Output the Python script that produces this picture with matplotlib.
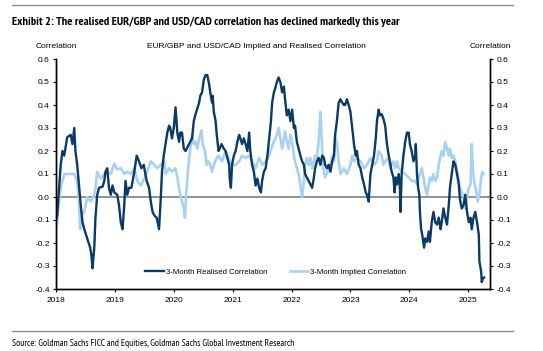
import matplotlib
matplotlib.use("Agg")
import matplotlib.pyplot as plt
from matplotlib import font_manager
from matplotlib.font_manager import FontProperties
from matplotlib.lines import Line2D

# ---------------- data ----------------
realised_years = [
    2018.00, 2018.02, 2018.08, 2018.11, 2018.14, 2018.19, 2018.25, 2018.28, 2018.31, 2018.33,
    2018.36, 2018.39, 2018.42, 2018.45, 2018.48, 2018.53, 2018.58, 2018.60, 2018.62, 2018.65,
    2018.67, 2018.70, 2018.73, 2018.79, 2018.82, 2018.84, 2018.87, 2018.90, 2018.93, 2018.96,
    2018.99, 2019.04, 2019.07, 2019.10, 2019.13, 2019.16, 2019.18, 2019.21, 2019.24, 2019.28,
    2019.33, 2019.37, 2019.41, 2019.45, 2019.49, 2019.51, 2019.54, 2019.58, 2019.61, 2019.64,
    2019.67, 2019.71, 2019.75, 2019.78, 2019.80, 2019.83, 2019.86, 2019.89, 2019.92, 2019.94,
    2019.97, 2020.00, 2020.03, 2020.06, 2020.09, 2020.11, 2020.14, 2020.17, 2020.20, 2020.26,
    2020.31, 2020.34, 2020.37, 2020.40, 2020.43, 2020.45, 2020.48, 2020.51, 2020.54, 2020.57,
    2020.60, 2020.62, 2020.65, 2020.66, 2020.68, 2020.71, 2020.73, 2020.76, 2020.78, 2020.81,
    2020.85, 2020.88, 2020.91, 2020.94, 2020.95, 2020.97, 2020.99, 2021.02, 2021.05, 2021.08,
    2021.11, 2021.13, 2021.16, 2021.19, 2021.22, 2021.25, 2021.28, 2021.30, 2021.33, 2021.36,
    2021.39, 2021.42, 2021.45, 2021.48, 2021.50, 2021.53, 2021.56, 2021.59, 2021.62, 2021.65,
    2021.67, 2021.70, 2021.72, 2021.75, 2021.78, 2021.81, 2021.84, 2021.87, 2021.89, 2021.92,
    2021.95, 2021.98, 2022.01, 2022.04, 2022.06, 2022.09, 2022.12, 2022.15, 2022.18, 2022.21,
    2022.23, 2022.26, 2022.29, 2022.32, 2022.35, 2022.38, 2022.40, 2022.43, 2022.46, 2022.49,
    2022.52, 2022.55, 2022.57, 2022.60, 2022.63, 2022.66, 2022.69, 2022.72, 2022.74, 2022.77,
    2022.80, 2022.83, 2022.86, 2022.89, 2022.91, 2022.94, 2022.97, 2023.00, 2023.03, 2023.06,
    2023.09, 2023.11, 2023.14, 2023.17, 2023.20, 2023.23, 2023.26, 2023.28, 2023.31, 2023.34,
    2023.37, 2023.40, 2023.43, 2023.45, 2023.48, 2023.50, 2023.53, 2023.56, 2023.59, 2023.62,
    2023.65, 2023.67, 2023.70, 2023.73, 2023.75, 2023.77, 2023.79, 2023.82, 2023.84, 2023.85,
    2023.87, 2023.90, 2023.93, 2023.96, 2023.99, 2024.01, 2024.04, 2024.07, 2024.10, 2024.11,
    2024.13, 2024.15, 2024.17, 2024.18, 2024.20, 2024.22, 2024.25, 2024.27, 2024.30, 2024.33,
    2024.35, 2024.38, 2024.41, 2024.44, 2024.47, 2024.50, 2024.53, 2024.55, 2024.58, 2024.61,
    2024.64, 2024.67, 2024.69, 2024.72, 2024.75, 2024.78, 2024.81, 2024.84, 2024.86, 2024.89,
    2024.92, 2024.95, 2024.98, 2025.01, 2025.04, 2025.06, 2025.09, 2025.12, 2025.15, 2025.18,
    2025.19, 2025.22, 2025.23, 2025.25, 2025.27,
]
realised_values = [
    -0.10, -0.08, 0.14, 0.20, 0.18, 0.26, 0.27, 0.23, 0.30, 0.20,
    0.14, 0.05, -0.035, -0.11, -0.14, -0.18, -0.22, -0.25, -0.31, -0.22,
    -0.09, 0.01, 0.04, 0.045, 0.07, 0.11, 0.125, 0.04, 0.01, 0.05,
    0.02, 0.01, -0.035, -0.11, -0.14, -0.03, 0.07, 0.01, 0.04, 0.04,
    0.11, 0.18, 0.155, 0.125, 0.14, 0.11, 0.07, 0.04, -0.02, -0.065,
    -0.08, -0.09, -0.14, 0.00, 0.11, 0.18, 0.23, 0.28, 0.31, 0.30,
    0.255, 0.30, 0.39, 0.28, 0.24, 0.28, 0.28, 0.21, 0.20, 0.23,
    0.255, 0.33, 0.36, 0.385, 0.41, 0.44, 0.455, 0.51, 0.53, 0.53,
    0.49, 0.455, 0.41, 0.44, 0.37, 0.33, 0.27, 0.20, 0.21, 0.23,
    0.21, 0.20, 0.17, 0.14, 0.08, 0.04, 0.14, 0.18, 0.20, 0.24,
    0.27, 0.255, 0.23, 0.255, 0.23, 0.20, 0.28, 0.20, 0.14, 0.11,
    0.05, 0.08, 0.04, 0.02, 0.07, 0.11, 0.125, 0.18, 0.255, 0.33,
    0.41, 0.455, 0.47, 0.50, 0.52, 0.50, 0.455, 0.48, 0.425, 0.355,
    0.38, 0.33, 0.38, 0.30, 0.31, 0.24, 0.21, 0.18, 0.155, 0.14,
    0.10, 0.085, 0.07, 0.055, 0.04, 0.085, 0.125, 0.155, 0.17, 0.14,
    0.18, 0.17, 0.14, 0.125, 0.14, 0.11, 0.155, 0.18, 0.27, 0.33,
    0.41, 0.425, 0.41, 0.40, 0.40, 0.425, 0.40, 0.37, 0.30, 0.23,
    0.18, 0.20, 0.14, 0.125, 0.085, 0.055, 0.02, 0.01, -0.02, 0.10,
    0.14, 0.18, 0.255, 0.33, 0.38, 0.355, 0.36, 0.34, 0.31, 0.23,
    0.18, 0.155, 0.11, 0.085, 0.02, 0.085, 0.055, 0.10, 0.04, -0.065,
    0.10, 0.18, 0.24, 0.28, 0.28, 0.23, 0.20, 0.155, 0.18, 0.23,
    0.10, 0.04, 0.01, -0.065, -0.14, -0.165, -0.22, -0.18, -0.195, -0.15,
    -0.195, -0.11, -0.065, -0.11, -0.12, -0.09, -0.14, -0.11, -0.05, -0.09,
    -0.12, -0.035, 0.04, 0.10, 0.155, 0.14, 0.10, 0.055, -0.01, -0.05,
    -0.035, 0.01, -0.065, -0.11, -0.09, -0.14, -0.09, -0.065, -0.11, -0.165,
    -0.28, -0.325, -0.37, -0.355, -0.35,
]

implied_years = [
    2018.00, 2018.02, 2018.05, 2018.08, 2018.14, 2018.19, 2018.25, 2018.31, 2018.36, 2018.39,
    2018.41, 2018.43, 2018.48, 2018.53, 2018.59, 2018.65, 2018.67, 2018.70, 2018.76, 2018.82,
    2018.87, 2018.93, 2018.99, 2019.04, 2019.10, 2019.16, 2019.21, 2019.27, 2019.33, 2019.38,
    2019.44, 2019.50, 2019.55, 2019.61, 2019.67, 2019.72, 2019.78, 2019.84, 2019.86, 2019.92,
    2019.97, 2020.03, 2020.06, 2020.09, 2020.11, 2020.14, 2020.17, 2020.19, 2020.21, 2020.25,
    2020.29, 2020.31, 2020.34, 2020.37, 2020.40, 2020.43, 2020.45, 2020.47, 2020.49, 2020.53,
    2020.56, 2020.59, 2020.62, 2020.65, 2020.70, 2020.76, 2020.82, 2020.88, 2020.93, 2020.99,
    2021.05, 2021.11, 2021.16, 2021.22, 2021.28, 2021.33, 2021.39, 2021.45, 2021.50, 2021.56,
    2021.62, 2021.64, 2021.70, 2021.75, 2021.78, 2021.81, 2021.84, 2021.87, 2021.89, 2021.92,
    2021.95, 2021.98, 2022.01, 2022.04, 2022.06, 2022.09, 2022.12, 2022.15, 2022.18, 2022.21,
    2022.23, 2022.26, 2022.29, 2022.32, 2022.35, 2022.38, 2022.40, 2022.43, 2022.46, 2022.49,
    2022.51, 2022.53, 2022.57, 2022.60, 2022.63, 2022.66, 2022.69, 2022.72, 2022.74, 2022.77,
    2022.80, 2022.83, 2022.89, 2022.94, 2023.00, 2023.03, 2023.06, 2023.11, 2023.17, 2023.23,
    2023.28, 2023.34, 2023.40, 2023.45, 2023.48, 2023.53, 2023.56, 2023.59, 2023.65, 2023.67,
    2023.73, 2023.76, 2023.79, 2023.82, 2023.87, 2023.93, 2023.99, 2024.04, 2024.10, 2024.13,
    2024.18, 2024.21, 2024.24, 2024.27, 2024.30, 2024.33, 2024.35, 2024.38, 2024.41, 2024.44,
    2024.47, 2024.50, 2024.53, 2024.55, 2024.58, 2024.61, 2024.64, 2024.67, 2024.69, 2024.72,
    2024.75, 2024.78, 2024.81, 2024.84, 2024.86, 2024.89, 2024.92, 2024.95, 2024.98, 2025.01,
    2025.04, 2025.06, 2025.08, 2025.11, 2025.14, 2025.16, 2025.19, 2025.22, 2025.24, 2025.26,
]
implied_values = [
    -0.14, -0.11, -0.02, 0.04, 0.10, 0.10, 0.10, 0.10, 0.07, -0.02,
    -0.14, -0.08, -0.065, 0.00, -0.02, 0.01, 0.04, 0.11, 0.08, 0.10,
    0.11, 0.10, 0.145, 0.12, 0.125, 0.10, 0.11, 0.10, 0.125, 0.07,
    0.05, 0.08, 0.11, 0.155, 0.14, 0.125, 0.14, 0.155, 0.10, 0.125,
    0.11, 0.125, 0.085, 0.04, 0.01, -0.02, -0.05, -0.09, 0.01, 0.14,
    0.23, 0.27, 0.23, 0.24, 0.21, 0.255, 0.27, 0.29, 0.23, 0.20,
    0.14, 0.155, 0.14, 0.11, 0.155, 0.18, 0.155, 0.20, 0.17, 0.14,
    0.14, 0.155, 0.18, 0.17, 0.18, 0.155, 0.125, 0.17, 0.14, 0.155,
    0.18, 0.20, 0.24, 0.27, 0.30, 0.255, 0.21, 0.255, 0.285, 0.24,
    0.21, 0.27, 0.24, 0.18, 0.155, 0.125, 0.10, 0.055, 0.00, 0.07,
    0.14, 0.17, 0.14, 0.17, 0.125, 0.155, 0.18, 0.17, 0.24, 0.37,
    0.27, 0.14, 0.085, 0.10, 0.125, 0.14, 0.18, 0.155, 0.255, 0.24,
    0.155, 0.10, 0.125, 0.10, 0.14, 0.18, 0.155, 0.17, 0.155, 0.125,
    0.14, 0.17, 0.14, 0.155, 0.20, 0.18, 0.14, 0.155, 0.17, 0.125,
    0.155, 0.125, 0.155, 0.125, 0.11, 0.10, 0.085, 0.07, 0.07, 0.055,
    0.10, 0.125, 0.085, 0.04, 0.01, 0.055, 0.085, 0.07, 0.10, 0.07,
    0.085, 0.14, 0.18, 0.20, 0.18, 0.24, 0.21, 0.18, 0.21, 0.17,
    0.18, 0.155, 0.11, 0.07, 0.04, 0.02, 0.00, -0.05, 0.00, 0.04,
    0.055, 0.23, 0.11, 0.055, 0.02, -0.02, 0.01, 0.085, 0.11, 0.10,
]

year_ticks = [2018, 2019, 2020, 2021, 2022, 2023, 2024, 2025]
year_labels = ["2018", "2019", "2020", "2021", "2022", "2023", "2024", "2025"]
corr_ticks = [-0.4, -0.3, -0.2, -0.1, 0.0, 0.1, 0.2, 0.3, 0.4, 0.5, 0.6]

title = "Exhibit 2: The realised EUR/GBP and USD/CAD correlation has declined markedly this year"
subtitle = "EUR/GBP and USD/CAD Implied and Realised Correlation"
source = "Source: Goldman Sachs FICC and Equities, Goldman Sachs Global Investment Research"
realised_label = "3-Month Realised Correlation"
implied_label = "3-Month Implied Correlation"

# ---------------- fonts ----------------
names = {f.name for f in font_manager.fontManager.ttflist}
SANS = "Liberation Sans" if "Liberation Sans" in names else "DejaVu Sans"
plt.rcParams["font.family"] = SANS


def _is_bold(w):
    if isinstance(w, str):
        return w in ("bold", "heavy", "black", "extra bold", "demibold", "semibold")
    return w >= 600


def find_condensed(bold):
    cands = []
    for f in font_manager.fontManager.ttflist:
        fn = f.fname.lower()
        narrow = ("narrow" in fn or "condensed" in fn or "narrow" in f.name.lower()
                  or "condensed" in f.name.lower()
                  or str(f.stretch) in ("condensed", "semi-condensed", "extra-condensed"))
        if not narrow or "italic" in fn or f.style != "normal":
            continue
        if "extra" in fn or "ultra" in fn or "semicondensed" in fn:
            continue
        if _is_bold(f.weight) != bold:
            continue
        if bold and ("semibold" in fn or "extrabold" in fn or "black" in fn):
            continue
        if (not bold) and ("light" in fn or "thin" in fn or "medium" in fn):
            continue
        score = 0
        if "narrow" in fn:
            score -= 3
        if "sans" in fn:
            score -= 1
        cands.append((score, f.fname))
    cands.sort()
    return FontProperties(fname=cands[0][1]) if cands else None


title_fp = find_condensed(True)
if title_fp is None:
    title_fp = FontProperties(family=SANS, weight="bold")
source_fp = find_condensed(False)
if source_fp is None:
    source_fp = FontProperties(family=SANS)

# ---------------- style ----------------
DARK = "#0b3a66"
LIGHT = "#a9d1f0"

W, H = 543, 351
fig = plt.figure(figsize=(W / 100, H / 100), dpi=100)

ax = fig.add_axes([56 / W, 1 - 289 / H, (490 - 56) / W, (289 - 59) / H])
ax.plot(implied_years, implied_values, color=LIGHT, lw=1.9, zorder=2, solid_joinstyle="round")
ax.plot(realised_years, realised_values, color=DARK, lw=1.7, zorder=3, solid_joinstyle="round")
ax.axhline(0, color="#7f7f7f", lw=1.2, zorder=1)

ax.set_xlim(2018.0, 2025.37)
ax.set_ylim(-0.4, 0.6)
ax.set_xticks(year_ticks)
ax.set_xticklabels(year_labels)
ax.set_yticks(corr_ticks)
ax.set_yticklabels([f"{v:.1f}" for v in corr_ticks])
ax.tick_params(axis="both", labelsize=6, length=2.5, width=0.8, colors="black", pad=2)
ax.tick_params(axis="x", pad=3)
ax.spines["top"].set_visible(False)
for s in ["left", "right", "bottom"]:
    ax.spines[s].set_linewidth(1.0)

ax2 = ax.twinx()
ax2.set_ylim(-0.4, 0.6)
ax2.set_yticks(corr_ticks)
ax2.set_yticklabels([f"{v:.1f}" for v in corr_ticks])
ax2.tick_params(axis="y", labelsize=6, length=2.5, width=0.8, pad=2)
ax2.spines["top"].set_visible(False)
for s in ["left", "right", "bottom"]:
    ax2.spines[s].set_linewidth(1.0)

handles = [Line2D([], [], color=DARK, lw=1.7), Line2D([], [], color=LIGHT, lw=1.9)]
leg = ax.legend(handles, [realised_label, implied_label], loc="center left",
                bbox_to_anchor=((145 - 56) / (490 - 56), (289 - 272) / (289 - 59)),
                ncol=2, frameon=False, fontsize=5.6, handlelength=2.4, handletextpad=0.25,
                columnspacing=2.9, borderaxespad=0, borderpad=0)

# texts
fig.text(36 / W, 1 - 46 / H, "Correlation", fontsize=6, ha="left", va="center")
fig.text(511 / W, 1 - 46 / H, "Correlation", fontsize=6, ha="right", va="center")
fig.text(256 / W, 1 - 47 / H, subtitle, fontsize=6.0, ha="center", va="center")
t_title = fig.text(12 / W, 1 - 22 / H, title, fontproperties=title_fp, fontsize=8.5,
                   ha="left", va="center")
t_src = fig.text(12 / W, 1 - 343 / H, source, fontproperties=source_fp, fontsize=6,
                 ha="left", va="center")

# fit the title / source widths to the reference widths
renderer = fig.canvas.get_renderer()
for t, target in ((t_title, 383.0), (t_src, 281.0)):
    w = t.get_window_extent(renderer).width
    if w > 0:
        t.set_fontsize(t.get_fontsize() * target / w)

fig.add_artist(Line2D([12 / W, 513 / W], [1 - 5 / H, 1 - 5 / H], color="#8c8c8c", lw=1.0))
fig.add_artist(Line2D([12 / W, 513 / W], [1 - 331 / H, 1 - 331 / H], color="#8c8c8c", lw=1.0))

fig.savefig("out.png", dpi=100)
